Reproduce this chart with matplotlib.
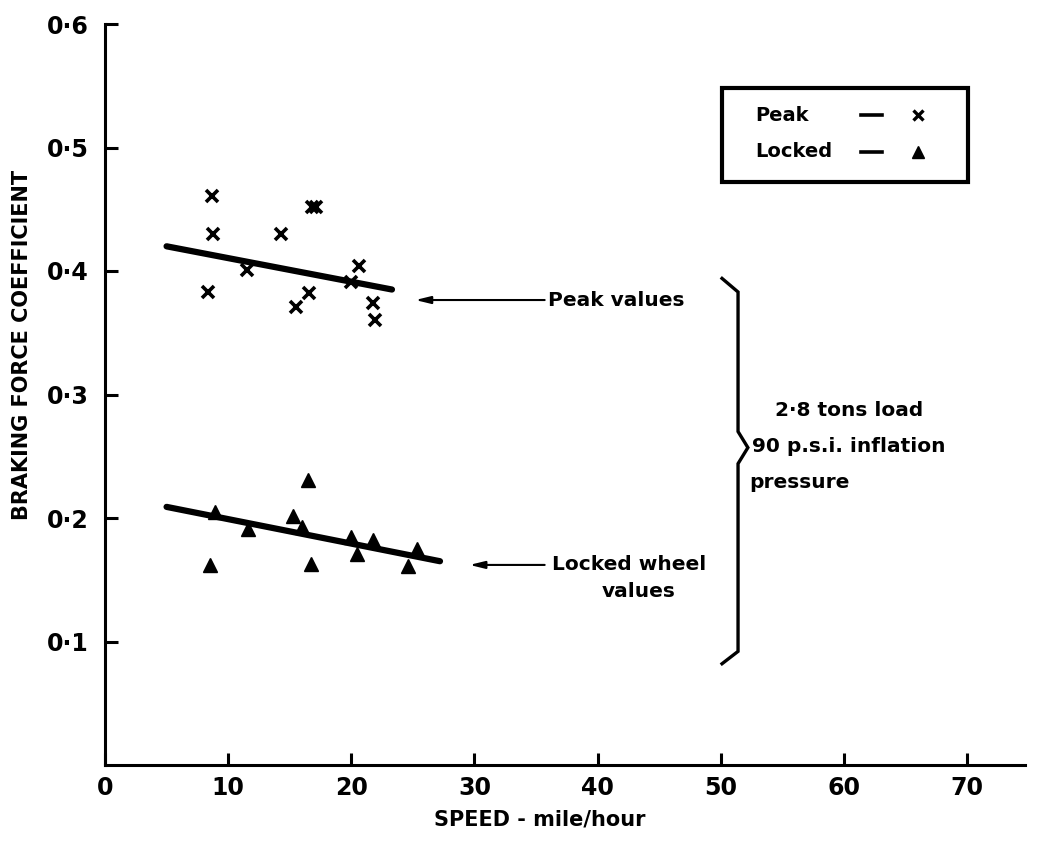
import matplotlib
matplotlib.use("Agg")
import matplotlib.pyplot as plt
from matplotlib.patches import Rectangle

# ---- data ----
peak_speed = [8.7, 8.8, 8.4, 11.5, 14.3, 16.8, 17.1, 16.6, 15.5, 20.6, 20.0, 21.8, 21.9]
peak_coef = [0.461, 0.430, 0.383, 0.401, 0.430, 0.452, 0.452, 0.382, 0.371, 0.404, 0.391, 0.374, 0.360]

locked_speed = [8.9, 8.5, 11.6, 16.5, 15.3, 16.0, 16.7, 20.0, 20.5, 21.8, 25.3, 24.6]
locked_coef = [0.205, 0.162, 0.191, 0.231, 0.202, 0.193, 0.163, 0.185, 0.171, 0.182, 0.175, 0.161]

peak_fit_speed = [5.0, 23.3]
peak_fit_coef = [0.420, 0.385]
locked_fit_speed = [5.0, 27.2]
locked_fit_coef = [0.209, 0.165]

x_ticks = [0, 10, 20, 30, 40, 50, 60, 70]
x_tick_labels = ["0", "10", "20", "30", "40", "50", "60", "70"]
y_ticks = [0.1, 0.2, 0.3, 0.4, 0.5, 0.6]
y_tick_labels = ["0·1", "0·2", "0·3", "0·4", "0·5", "0·6"]

x_label = "SPEED - mile/hour"
y_label = "BRAKING FORCE COEFFICIENT"
legend_labels = ["Peak", "Locked"]
note_peak = "Peak values"
note_conditions = ["2·8 tons load", "90 p.s.i. inflation", "pressure"]

plt.rcParams['font.family'] = ['DejaVu Sans']
plt.rcParams['font.weight'] = 'bold'

W, H = 1038, 842
fig = plt.figure(figsize=(W / 100, H / 100), dpi=100)
ax = fig.add_axes([105 / W, 1 - 765 / H, 920 / W, 741 / H])

ax.set_xlim(0, 74.7)
ax.set_ylim(0, 0.6)

for s in ["top", "right"]:
    ax.spines[s].set_visible(False)
for s in ["left", "bottom"]:
    ax.spines[s].set_linewidth(2.2)

ax.set_xticks(x_ticks)
ax.set_xticklabels(x_tick_labels)
ax.set_yticks(y_ticks)
ax.set_yticklabels(y_tick_labels)
ax.tick_params(axis="both", direction="in", length=9, width=2.2, labelsize=17)
ax.tick_params(axis="x", pad=8)
ax.tick_params(axis="y", pad=12)
for t in ax.get_xticklabels() + ax.get_yticklabels():
    t.set_fontweight("bold")
    t.set_clip_on(False)
for line in ax.yaxis.get_ticklines():
    line.set_clip_on(False)

ax.set_xlabel(x_label, fontsize=15, fontweight="bold", labelpad=8)
ax.xaxis.set_label_coords(0.473, -0.06)
ax.set_ylabel(y_label, fontsize=15, fontweight="bold")
ax.yaxis.set_label_coords(-0.079, 0.567)

# data
ax.plot(peak_speed, peak_coef, linestyle="none", marker="x", color="black",
        markersize=8.5, markeredgewidth=2.6)
ax.plot(locked_speed, locked_coef, linestyle="none", marker="^", color="black",
        markersize=10.5)
ax.plot(peak_fit_speed, peak_fit_coef, color="black", linewidth=4.5,
        solid_capstyle="round")
ax.plot(locked_fit_speed, locked_fit_coef, color="black", linewidth=4.5,
        solid_capstyle="round")

# annotations
arrow = dict(arrowstyle="-|>,head_length=0.9,head_width=0.22", color="black",
             linewidth=1.5, shrinkA=0, shrinkB=0)
ax.annotate("", xy=(25.2, 0.3765), xytext=(35.7, 0.3765), arrowprops=arrow)
ax.text(36.0, 0.3765, note_peak, fontsize=14.5, fontweight="bold", va="center", ha="left")
ax.annotate("", xy=(29.6, 0.162), xytext=(35.7, 0.162), arrowprops=arrow)
ax.text(36.3, 0.162, "Locked wheel", fontsize=14.5, fontweight="bold", va="center", ha="left")
ax.text(43.3, 0.1405, "values", fontsize=14.5, fontweight="bold", va="center", ha="center")

# brace
brace_x = [50.1, 51.4, 51.4, 52.2, 51.4, 51.4, 50.1]
brace_y = [0.394, 0.383, 0.270, 0.257, 0.244, 0.092, 0.082]
ax.plot(brace_x, brace_y, color="black", linewidth=2.4, clip_on=False,
        solid_joinstyle="miter")

ax.text(54.4, 0.2874, note_conditions[0], fontsize=14.5, fontweight="bold", va="center", ha="left")
ax.text(52.5, 0.2575, note_conditions[1], fontsize=14.5, fontweight="bold", va="center", ha="left")
ax.text(52.3, 0.2291, note_conditions[2], fontsize=14.5, fontweight="bold", va="center", ha="left")

# legend box (axes coords)
ax.add_patch(Rectangle((0.6707, 0.7868), 0.2673, 0.1268, transform=ax.transAxes,
                       fill=False, linewidth=3.0, edgecolor="black", clip_on=False))
ax.text(0.7065, 0.877, legend_labels[0], transform=ax.transAxes, fontsize=14,
        fontweight="bold", va="center", ha="left")
ax.text(0.7065, 0.8273, legend_labels[1], transform=ax.transAxes, fontsize=14,
        fontweight="bold", va="center", ha="left")
for yy in (0.877, 0.8273):
    ax.plot([0.822, 0.845], [yy, yy], transform=ax.transAxes, color="black",
            linewidth=2.6, clip_on=False)
ax.plot([0.8837], [0.877], transform=ax.transAxes, marker="x", color="black",
        markersize=7, markeredgewidth=2.4, linestyle="none", clip_on=False)
ax.plot([0.8837], [0.8273], transform=ax.transAxes, marker="^", color="black",
        markersize=8, linestyle="none", clip_on=False)

fig.savefig("out.png", dpi=100)
